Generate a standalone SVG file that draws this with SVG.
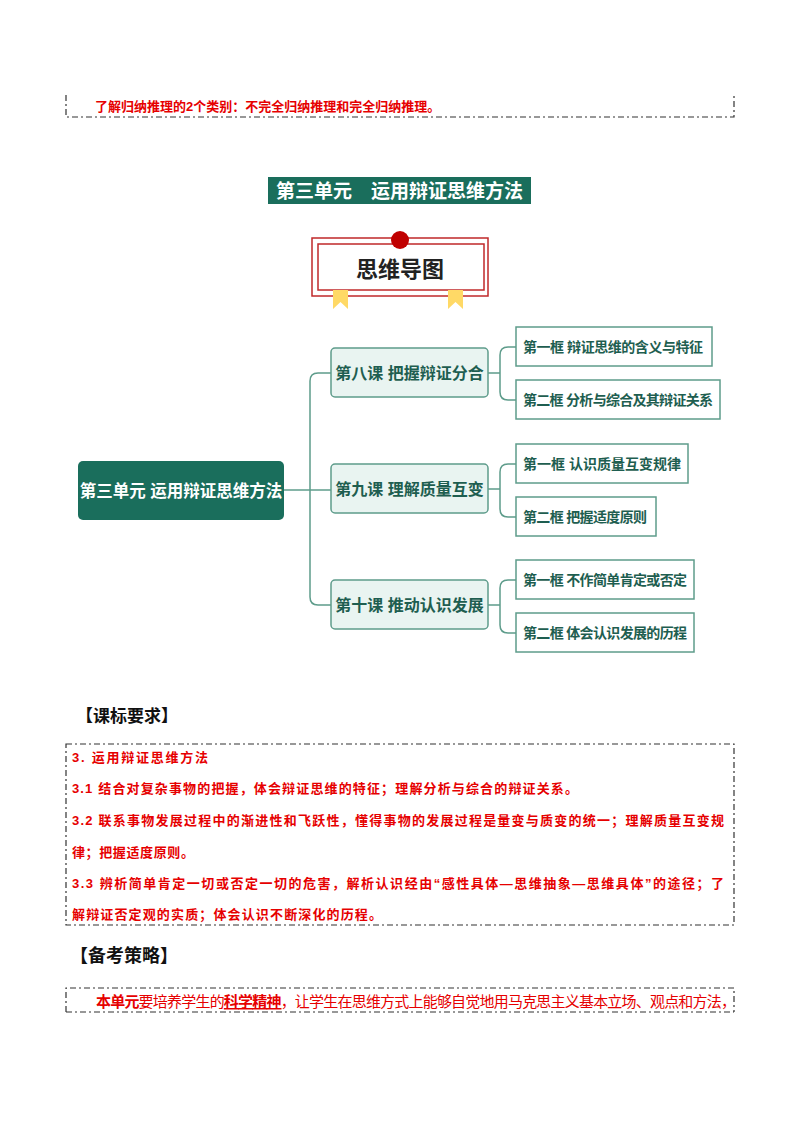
<svg xmlns="http://www.w3.org/2000/svg" width="800" height="1132" viewBox="0 0 800 1132">
<style>
text{font-family:"Liberation Sans","Noto Sans CJK SC",sans-serif}
.red{fill:#e60000;font-weight:bold;font-size:13px}
.dash{fill:none;stroke:#333;stroke-width:1.2;stroke-dasharray:6 3 2 3}
.les{fill:#e9f4f1;stroke:#5e9c8b;stroke-width:1.5}
.frm{fill:#fff;stroke:#5e9c8b;stroke-width:1.5}
.lt{fill:#1e5e50;font-size:16px;font-weight:bold}
.ft{fill:#1e5e50;font-size:14px;font-weight:bold}
.con{fill:none;stroke:#5e9c8b;stroke-width:1.5}
.h{font-size:17px;font-weight:bold;fill:#111}
</style>
<rect width="800" height="1132" fill="#fff"/>
<path class="dash" d="M66 95 V117 H734 V95"/>
<text x="95" y="111" class="red">了解归纳推理的2个类别：不完全归纳推理和完全归纳推理。</text>
<g id="title"><rect x="268" y="177" width="263" height="27" fill="#1a6e5c"/>
<text x="399.5" y="198" text-anchor="middle" fill="#fff" font-size="19" font-weight="bold">第三单元　运用辩证思维方法</text></g>
<g id="header">
<rect x="312" y="238" width="176" height="58" fill="#fff" stroke="#c0282a" stroke-width="1.5"/>
<rect x="318" y="244" width="166" height="46" fill="#fff" stroke="#c0282a" stroke-width="1.5"/>
<circle cx="400" cy="240" r="9" fill="#c00000"/>
<path d="M333 290 H348 V309 L340.5 302 L333 309 Z" fill="#ffd966"/>
<path d="M448 290 H463 V309 L455.5 302 L448 309 Z" fill="#ffd966"/>
<text x="400" y="277" text-anchor="middle" font-size="22" font-weight="bold" fill="#222">思维导图</text></g>
<g id="connectors">
<path class="con" d="M284 490 H331"/>
<path class="con" d="M331 373 H318 Q310 373 310 381 V597 Q310 605 318 605 H331"/>
<path class="con" d="M488 373 H500 M516 347 H508 Q500 347 500 355 V392 Q500 400 508 400 H516"/>
<path class="con" d="M488 489 H500 M516 464 H508 Q500 464 500 472 V509 Q500 517 508 517 H516"/>
<path class="con" d="M488 605 H500 M516 580 H508 Q500 580 500 588 V625 Q500 633 508 633 H516"/>
</g>
<g id="root"><rect x="78" y="461" width="206" height="59" rx="5" fill="#1a6e5c"/>
<text x="181" y="497" text-anchor="middle" fill="#fff" font-size="16.5" font-weight="bold">第三单元  运用辩证思维方法</text></g>
<g id="l8"><rect class="les" x="331" y="348" width="157" height="49" rx="4"/><text class="lt" x="409.5" y="379" text-anchor="middle">第八课  把握辩证分合</text></g>
<g id="l9"><rect class="les" x="331" y="464" width="157" height="49" rx="4"/><text class="lt" x="409.5" y="495" text-anchor="middle">第九课  理解质量互变</text></g>
<g id="l10"><rect class="les" x="331" y="580" width="157" height="49" rx="4"/><text class="lt" x="409.5" y="611" text-anchor="middle">第十课  推动认识发展</text></g>
<g id="f81"><rect class="frm" x="516" y="327" width="196" height="39"/><text class="ft" x="523" y="352" textLength="180">第一框  辩证思维的含义与特征</text></g>
<g id="f82"><rect class="frm" x="516" y="380" width="204" height="39"/><text class="ft" x="523" y="405" textLength="190">第二框  分析与综合及其辩证关系</text></g>
<g id="f91"><rect class="frm" x="516" y="444" width="172" height="39"/><text class="ft" x="523" y="469" textLength="158">第一框  认识质量互变规律</text></g>
<g id="f92"><rect class="frm" x="516" y="497" width="140" height="39"/><text class="ft" x="523" y="522" textLength="124">第二框  把握适度原则</text></g>
<g id="f101"><rect class="frm" x="516" y="560" width="178" height="39"/><text class="ft" x="523" y="585" textLength="164">第一框  不作简单肯定或否定</text></g>
<g id="f102"><rect class="frm" x="516" y="613" width="178" height="39"/><text class="ft" x="523" y="638" textLength="164">第二框  体会认识发展的历程</text></g>
<text x="76" y="722" class="h">【课标要求】</text>
<rect class="dash" x="66" y="744" width="668" height="181"/>
<text class="red" x="72" y="762" textLength="136">3.  运用辩证思维方法</text>
<text class="red" x="72" y="793" textLength="506">3.1  结合对复杂事物的把握，体会辩证思维的特征；理解分析与综合的辩证关系。</text>
<text class="red" x="72" y="825" textLength="652">3.2  联系事物发展过程中的渐进性和飞跃性，懂得事物的发展过程是量变与质变的统一；理解质量互变规</text>
<text class="red" x="72" y="857" textLength="122">律；把握适度原则。</text>
<text class="red" x="72" y="888" textLength="652">3.3  辨析简单肯定一切或否定一切的危害，解析认识经由“感性具体—思维抽象—思维具体”的途径；了</text>
<text class="red" x="72" y="919" textLength="310">解辩证否定观的实质；体会认识不断深化的历程。</text>
<text x="70" y="962" class="h" style="font-size:18px">【备考策略】</text>
<path class="dash" d="M66 1012 V988 H734 V1012 M66 1012 H734"/>
<text x="96" y="1007" fill="#e60000" font-size="15" textLength="640"><tspan font-weight="bold">本单元</tspan>要培养学生的<tspan font-weight="bold" text-decoration="underline">科学精神</tspan>，让学生在思维方式上能够自觉地用马克思主义基本立场、观点和方法，</text>
</svg>
